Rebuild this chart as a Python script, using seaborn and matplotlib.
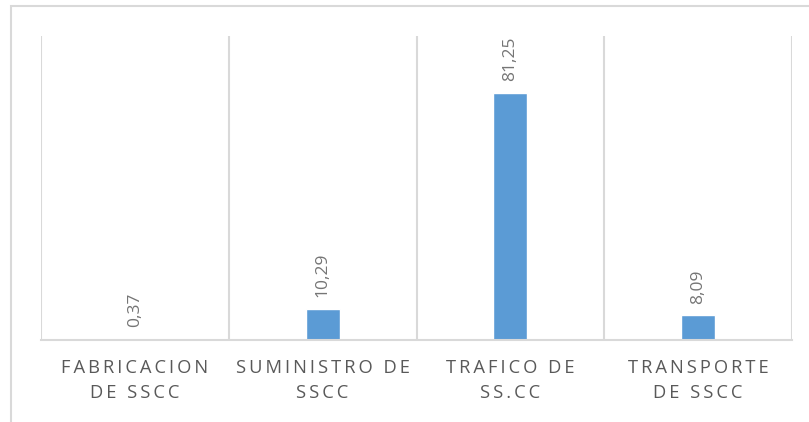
import matplotlib
matplotlib.use('Agg')
import matplotlib.pyplot as plt
import seaborn as sns
from matplotlib.patches import Rectangle

# data
categories = ['FABRICACION\nDE SSCC', 'SUMINISTRO DE\nSSCC', 'TRAFICO DE\nSS.CC', 'TRANSPORTE\nDE SSCC']
values = [0.37, 10.29, 81.25, 8.09]
value_labels = ['0,37', '10,29', '81,25', '8,09']

sns.set_style('white')
plt.rcParams['font.family'] = ['Open Sans', 'DejaVu Sans']

bar_color = '#5B9BD5'
grey_text = '#595959'
line_color = '#d9d9d9'


def spaced(s):
    # fake the wide letter spacing of the original with thin spaces
    return '\n'.join('\u2009'.join(ch for ch in line) for line in s.split('\n'))


fig = plt.figure(figsize=(8.09, 4.22), dpi=100)
ax = fig.add_axes([41 / 809, 82 / 422, 751 / 809, 304 / 422])

sns.barplot(x=list(range(len(values))), y=values, color=bar_color, width=0.18,
            saturation=1, ax=ax)

ax.set_xlim(-0.5, len(values) - 0.5)
ax.set_ylim(0, 100)
ax.set_yticks([])

# vertical separators between categories
for b in [i - 0.5 for i in range(len(values) + 1)]:
    ax.axvline(b, color=line_color, lw=1.5, zorder=0)

for side in ['top', 'left', 'right']:
    ax.spines[side].set_visible(False)
ax.spines['bottom'].set_color(line_color)
ax.spines['bottom'].set_linewidth(1.5)

ax.set_xticks(range(len(values)))
ax.set_xticklabels([spaced(c) for c in categories], fontsize=13.2, color=grey_text,
                   linespacing=1.45)
ax.tick_params(axis='x', length=0, pad=14)

for i, (v, lab) in enumerate(zip(values, value_labels)):
    ax.text(i, v + 3.8, lab, rotation=90, ha='center', va='bottom',
            fontsize=12.5, color='#757575')

ax.set_xlabel('')
ax.set_ylabel('')

# outer chart frame (cropped at right and bottom in the original)
fig.patches.append(Rectangle((11 / 809, -0.1), 1.0, 416 / 422 + 0.1,
                             transform=fig.transFigure, fill=False,
                             edgecolor=line_color, lw=1.5))

fig.savefig('out.png', dpi=100, facecolor='white')
